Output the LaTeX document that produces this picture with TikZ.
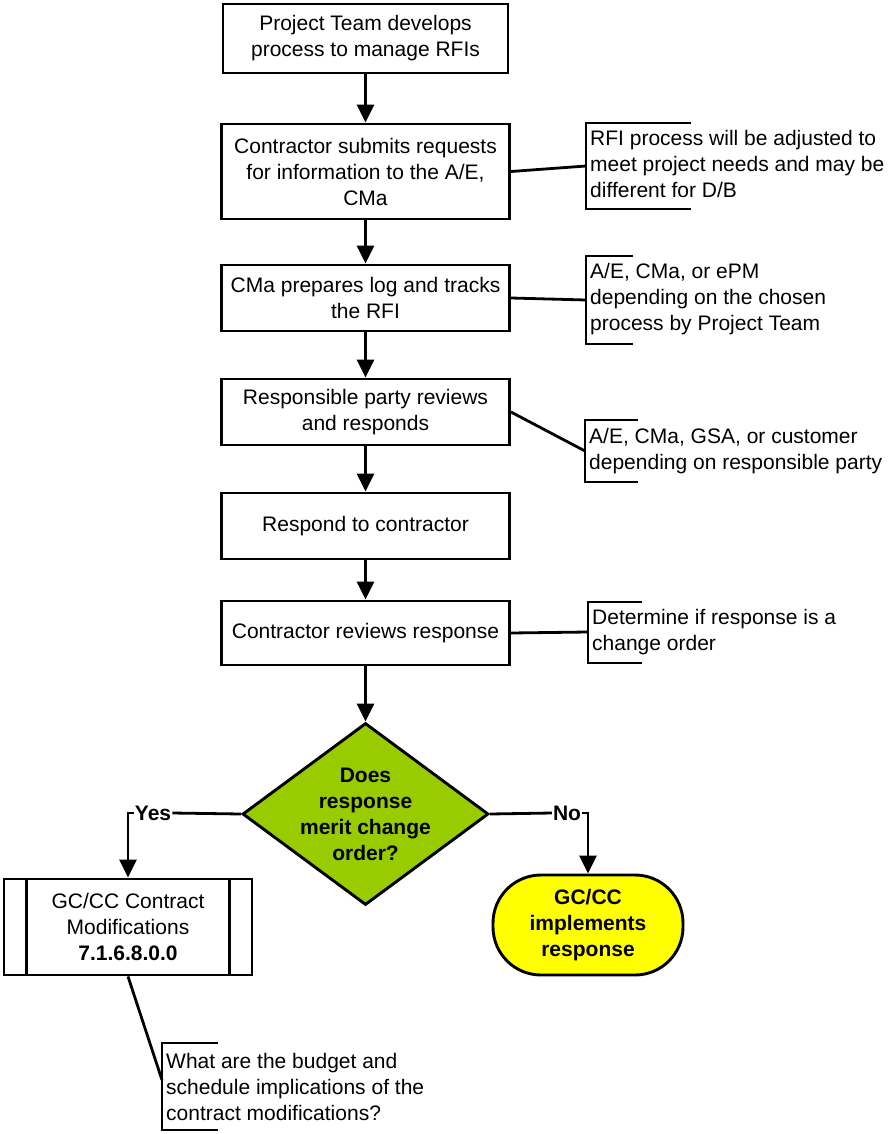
\documentclass[tikz,border=0pt]{standalone}
\usepackage{fontspec}
\setmainfont{Liberation Sans}
\usetikzlibrary{arrows.meta,shapes.geometric}
\definecolor{dgreen}{HTML}{99CC00}
\definecolor{tyellow}{HTML}{FFFF00}
\begin{document}
\begin{tikzpicture}[x=1pt,y=-1pt,
  every node/.style={font=\fontsize{21}{26}\selectfont},
  procbox/.style={draw, line width=2.9pt, minimum width=288pt, align=center, inner sep=0pt},
  conn/.style={line width=2.9pt, -{Triangle[length=18pt,width=17pt]}},
  link/.style={line width=2.8pt},
  bracket/.style={line width=2.8pt},
  note/.style={anchor=west, align=left, inner xsep=4pt, inner ysep=0pt},
  lbl/.style={font=\fontsize{21}{26}\selectfont\bfseries, inner sep=1pt}]
\useasboundingbox (0,0) rectangle (889,1134);

% main boxes
\node[procbox, minimum width=285pt, minimum height=69pt] (b1) at (365.5,38.5) {Project Team develops\\process to manage RFIs};
\node[procbox, minimum height=95pt] (b2) at (365.5,171.5) {Contractor submits requests\\for information to the A/E,\\CMa};
\node[procbox, minimum height=66pt] (b3) at (365.5,298) {CMa prepares log and tracks\\the RFI};
\node[procbox, minimum height=66pt] (b4) at (365.5,412) {Responsible party reviews\\and responds};
\node[procbox, minimum height=66pt] (b5) at (365.5,526) {Respond to contractor};
\node[procbox, minimum height=64pt] (b6) at (365.5,633) {Contractor reviews response};

% decision
\node[diamond, draw, line width=2.9pt, fill=dgreen, minimum width=246pt, minimum height=182pt, inner sep=0pt] (dec) at (365.5,814) {};
\node[lbl, align=center] (dectext) at (dec.center) {Does\\response\\merit change\\order?};

% outcomes
\node[procbox, minimum width=248pt, minimum height=96pt] (gc) at (128,927) {GC/CC Contract\\Modifications\\\textbf{7.1.6.8.0.0}};
\draw[link] ([xshift=24pt]gc.north west) -- ([xshift=24pt]gc.south west);
\draw[link] ([xshift=-24pt]gc.north east) -- ([xshift=-24pt]gc.south east);
\node[draw, line width=2.9pt, fill=tyellow, rounded corners=48pt, minimum width=190pt, minimum height=100pt, align=center, inner sep=0pt, font=\fontsize{21}{26}\selectfont\bfseries] (term) at (588,925) {GC/CC\\implements\\response};

% main arrows
\draw[conn] (b1.south) -- (b2.north);
\draw[conn] (b2.south) -- (b3.north);
\draw[conn] (b3.south) -- (b4.north);
\draw[conn] (b4.south) -- (b5.north);
\draw[conn] (b5.south) -- (b6.north);
\draw[conn] (b6.south) -- (dec.north);

% yes / no
\node[lbl] (yes) at (153,813) {Yes};
\draw[link] (dec.west) -- (yes.east);
\draw[conn] (yes.west) -| (gc.north);
\node[lbl] (no) at (567,813) {No};
\draw[link] (dec.east) -- (no.west);
\draw[conn] (no.east) -| (term.north);

% annotation 1
\coordinate (a1) at (586,166);
\draw[bracket] (691,123) -- (586,123) -- (586,209) -- (691,209);
\node[note] (n1) at (586,164) {RFI process will be adjusted to\\meet project needs and may be\\different for D/B};
\draw[link] (b2.east) -- (a1);

% annotation 2
\coordinate (a2) at (586,300);
\draw[bracket] (633,256) -- (586,256) -- (586,344) -- (633,344);
\node[note] (n2) at (586,299) {A/E, CMa, or ePM\\depending on the chosen\\process by Project Team};
\draw[link] (b3.east) -- (a2);

% annotation 3
\coordinate (a3) at (585,451);
\draw[bracket] (638,420) -- (585,420) -- (585,482) -- (638,482);
\node[note] (n3) at (585,451) {A/E, CMa, GSA, or customer\\depending on responsible party};
\draw[link] (b4.east) -- (a3);

% annotation 4
\coordinate (a4) at (588,632);
\draw[bracket] (642,602) -- (588,602) -- (588,663) -- (642,663);
\node[note] (n4) at (588,632) {Determine if response is a\\change order};
\draw[link] (b6.east) -- (a4);

% annotation 5
\coordinate (a5) at (162,1080);
\draw[bracket] (218,1043) -- (162,1043) -- (162,1130) -- (218,1130);
\node[note] (n5) at (162,1087) {What are the budget and\\schedule implications of the\\contract modifications?};
\draw[link] (gc.south) -- (a5);
\end{tikzpicture}
\end{document}
